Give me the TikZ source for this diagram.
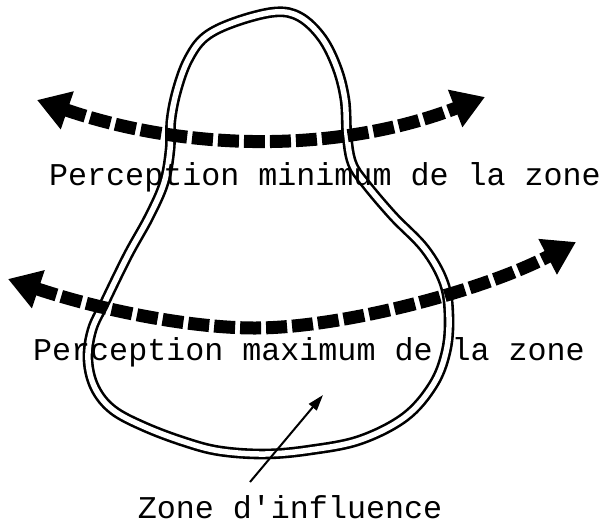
\documentclass[tikz,border=0pt]{standalone}
\usepackage{fontspec}
\setmonofont{Liberation Mono}
\usetikzlibrary{arrows.meta}

\tikzset{
  etiquette/.style={font=\ttfamily\fontsize{31.7}{38}\selectfont, inner sep=0pt, anchor=base},
  perception/.style={line width=13pt, dash pattern=on 21pt off 5pt,
    {Triangle[length=32pt,width=38pt]}-{Triangle[length=32pt,width=38pt]}},
  contour/.style={line width=2.6pt, double=white, double distance=5.5pt},
  renvoi/.style={line width=2pt, -{Triangle[length=16pt,width=10pt]}}
}

\begin{document}
\begin{tikzpicture}[x=1pt, y=-1pt]
\useasboundingbox (0,0) rectangle (610,528);

% --- zone d'influence (contour double) ---
\draw[contour] plot[smooth cycle, tension=0.6] coordinates {
  (275,12) (300,17) (322,38) (337,68) (345,100) (347,135) (352,163)
  (365,183) (393,216) (425,249) (444,283) (449,317) (446,352) (433,385)
  (405,417) (360,440) (310,450) (265,454) (220,451) (185,442) (145,427)
  (113,410) (95,388) (88,360) (92,330) (105,302) (128,255) (149,217)
  (164,183) (170,150) (171,120) (177,90) (188,60) (205,37) (235,22)};

% --- extremites des fleches ---
\coordinate (min-g) at (37,100);
\coordinate (min-d) at (485,97);
\coordinate (max-g) at (8,279);
\coordinate (max-m) at (255,328);
\coordinate (max-d) at (576,242);
\coordinate (zone-pied) at (250,482);
\coordinate (zone-pointe) at (323,395);

% --- fleches de perception ---
\draw[perception] (min-g) .. controls (192,153) and (342,152) .. (min-d);
\draw[perception] (max-g) .. controls (100,310) and (190,328) .. (max-m)
  .. controls (340,328) and (480,292) .. (max-d);

% --- textes ---
\node[etiquette] (txt-min) at (325,185) {Perception minimum de la zone};
\node[etiquette] (txt-max) at (309,360) {Perception maximum de la zone};
\node[etiquette] (txt-zone) at (290,518) {Zone d'influence};

% renvoi vers la zone
\draw[renvoi] (zone-pied) -- (zone-pointe);

\end{tikzpicture}
\end{document}
